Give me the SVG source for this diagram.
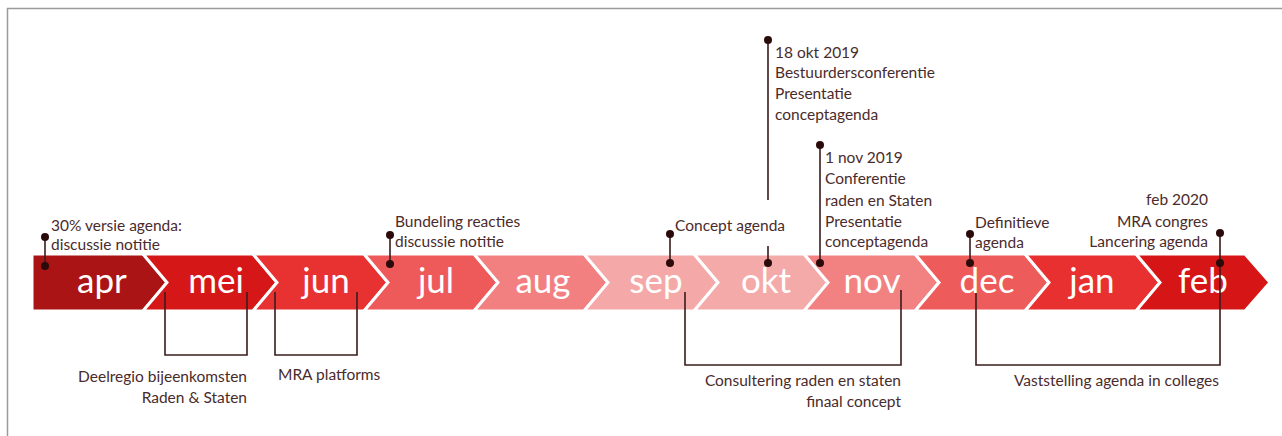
<svg xmlns="http://www.w3.org/2000/svg" width="1282" height="436" viewBox="0 0 1282 436">
<style>
.chev{stroke:#fff;stroke-width:3;stroke-linejoin:miter}
.mon{font-family:Lato,"Open Sans",sans-serif;font-size:35px;fill:#fff;text-anchor:middle}
.lbl{font-family:Lato,"Open Sans",sans-serif;font-size:15.5px;fill:#4a2b2b}
.end{text-anchor:end}
.ln{stroke:#3b1c1c;stroke-width:1.6;fill:none}
.dot{fill:#2b0a0a}
</style>
<rect x="0" y="0" width="1282" height="436" fill="#fff"/>
<path d="M7.5 436V8.5H1282" fill="none" stroke="#9a9a9a" stroke-width="1.5"/>
<g id="band">
<g id="m-apr"><polygon class="chev" fill="#ab1414" points="32,254 143,254 167,282.5 143,311 32,311"/><text class="mon" x="102" y="293">apr</text></g>
<g id="m-mei"><polygon class="chev" fill="#d61717" points="143,254 253,254 277,282.5 253,311 143,311 167,282.5"/><text class="mon" x="216" y="293">mei</text></g>
<g id="m-jun"><polygon class="chev" fill="#e83131" points="253,254 364,254 388,282.5 364,311 253,311 277,282.5"/><text class="mon" x="326" y="293">jun</text></g>
<g id="m-jul"><polygon class="chev" fill="#ee5a5a" points="364,254 474,254 498,282.5 474,311 364,311 388,282.5"/><text class="mon" x="436" y="293">jul</text></g>
<g id="m-aug"><polygon class="chev" fill="#f28080" points="474,254 584,254 608,282.5 584,311 474,311 498,282.5"/><text class="mon" x="543" y="293">aug</text></g>
<g id="m-sep"><polygon class="chev" fill="#f5a8a8" points="584,254 694,254 718,282.5 694,311 584,311 608,282.5"/><text class="mon" x="656" y="293">sep</text></g>
<g id="m-okt"><polygon class="chev" fill="#f5aaaa" points="694,254 804,254 828,282.5 804,311 694,311 718,282.5"/><text class="mon" x="766" y="293">okt</text></g>
<g id="m-nov"><polygon class="chev" fill="#f28282" points="804,254 915,254 939,282.5 915,311 804,311 828,282.5"/><text class="mon" x="872" y="293">nov</text></g>
<g id="m-dec"><polygon class="chev" fill="#ee5b5b" points="915,254 1025,254 1049,282.5 1025,311 915,311 939,282.5"/><text class="mon" x="987" y="293">dec</text></g>
<g id="m-jan"><polygon class="chev" fill="#e83030" points="1025,254 1136,254 1160,282.5 1136,311 1025,311 1049,282.5"/><text class="mon" x="1092" y="293">jan</text></g>
<g id="m-feb"><polygon class="chev" fill="#d61616" points="1136,254 1245,254 1270,282.5 1245,311 1136,311 1160,282.5"/><text class="mon" x="1203" y="293">feb</text></g>
</g>
<g id="connectors">
<path class="ln" d="M45 237V266"/>
<path class="ln" d="M390 235V264"/>
<path class="ln" d="M670 234V263"/>
<path class="ln" d="M768 40V200M768 246V263"/>
<path class="ln" d="M820 145V263"/>
<path class="ln" d="M970 234V263"/>
<path class="ln" d="M1220 233V365H976V293"/>
<path class="ln" d="M165 292V355H247V292"/>
<path class="ln" d="M275 292V355H357V292"/>
<path class="ln" d="M685 292V365H901V290"/>
<g class="dot">
<circle cx="45" cy="237" r="4"/><circle cx="45" cy="266" r="4"/>
<circle cx="390" cy="235" r="4"/><circle cx="390" cy="264" r="4"/>
<circle cx="670" cy="234" r="4"/><circle cx="670" cy="263" r="4"/>
<circle cx="768" cy="40" r="4"/><circle cx="768" cy="263" r="4"/>
<circle cx="820" cy="145" r="4"/><circle cx="820" cy="263" r="4"/>
<circle cx="970" cy="234" r="4"/><circle cx="970" cy="263" r="4"/>
<circle cx="1220" cy="233" r="4"/><circle cx="1220" cy="263" r="4"/>
</g>
</g>
<g id="n-30">
<text class="lbl" x="51" y="231">30% versie agenda:</text>
<text class="lbl" x="51" y="250">discussie notitie</text>
</g>
<g id="n-bundeling">
<text class="lbl" x="395" y="227">Bundeling reacties</text>
<text class="lbl" x="395" y="247">discussie notitie</text>
</g>
<g id="n-concept">
<text class="lbl" x="675" y="231">Concept agenda</text>
</g>
<g id="n-18okt">
<text class="lbl" x="775" y="58">18 okt 2019</text>
<text class="lbl" x="775" y="78">Bestuurdersconferentie</text>
<text class="lbl" x="775" y="99">Presentatie</text>
<text class="lbl" x="775" y="120">conceptagenda</text>
</g>
<g id="n-1nov">
<text class="lbl" x="825" y="163">1 nov 2019</text>
<text class="lbl" x="825" y="184">Conferentie</text>
<text class="lbl" x="825" y="206">raden en Staten</text>
<text class="lbl" x="825" y="227">Presentatie</text>
<text class="lbl" x="825" y="247">conceptagenda</text>
</g>
<g id="n-definitief">
<text class="lbl" x="975" y="228">Definitieve</text>
<text class="lbl" x="975" y="248">agenda</text>
</g>
<g id="n-feb2020">
<text class="lbl end" x="1208" y="205">feb 2020</text>
<text class="lbl end" x="1208" y="227">MRA congres</text>
<text class="lbl end" x="1208" y="247">Lancering agenda</text>
</g>
<g id="n-deelregio">
<text class="lbl end" x="247" y="382">Deelregio bijeenkomsten</text>
<text class="lbl end" x="247" y="403">Raden &amp; Staten</text>
</g>
<g id="n-mra">
<text class="lbl" x="278" y="380">MRA platforms</text>
</g>
<g id="n-consultering">
<text class="lbl end" x="901" y="386">Consultering raden en staten</text>
<text class="lbl end" x="901" y="407">finaal concept</text>
</g>
<g id="n-vaststelling">
<text class="lbl end" x="1219" y="386">Vaststelling agenda in colleges</text>
</g>
</svg>
